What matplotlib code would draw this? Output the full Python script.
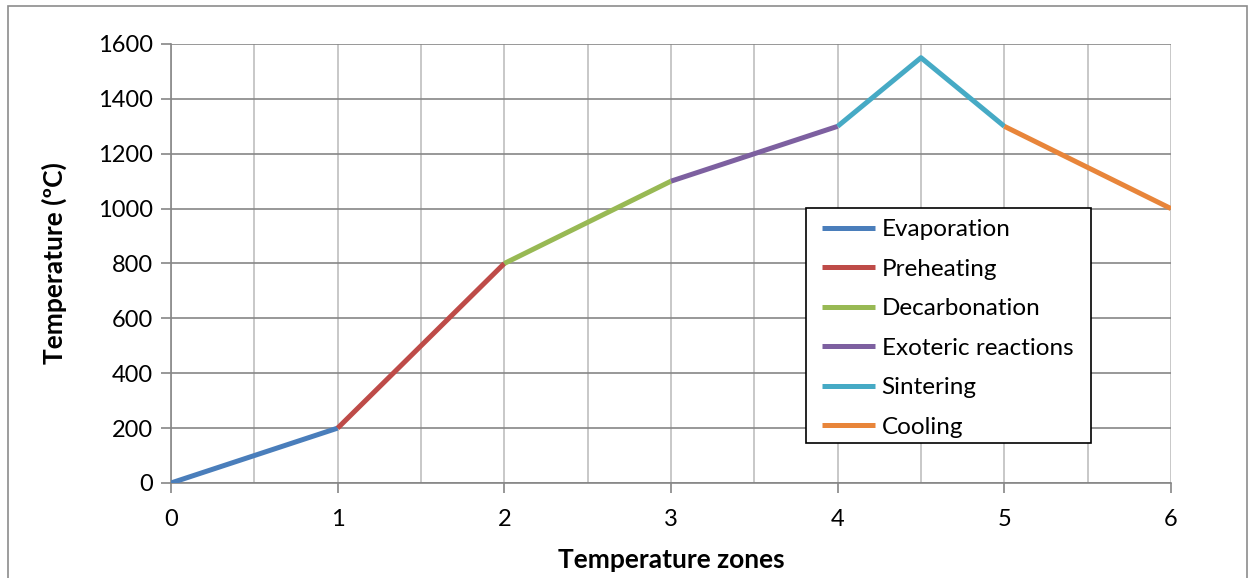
import matplotlib
matplotlib.use("Agg")
import matplotlib.pyplot as plt
from matplotlib.patches import Rectangle

# temperature profile through the kiln, one segment per process stage
stages = ["Evaporation", "Preheating", "Decarbonation",
          "Exoteric reactions", "Sintering", "Cooling"]
zones = [
    [0, 1],
    [1, 2],
    [2, 3],
    [3, 4],
    [4, 4.5, 5],
    [5, 6],
]
temps = [
    [0, 200],
    [200, 800],
    [800, 1100],
    [1100, 1300],
    [1300, 1550, 1300],
    [1300, 1000],
]
colors = ["#4A7EBB", "#BE4B48", "#98B954", "#7D60A0", "#46AAC5", "#E8853A"]

plt.rcParams["font.family"] = ["Lato", "DejaVu Sans"]

fig = plt.figure(figsize=(12.5, 5.78), dpi=100)
ax = fig.add_axes([0.1368, 0.1644, 0.8, 0.7595])

# thin grey frame round the whole chart
fig.patches.append(Rectangle((0.0065, -0.05), 0.991, 1.04, transform=fig.transFigure,
                             fill=False, edgecolor="#8c8c8c", linewidth=1.2))

for x, y, c, name in zip(zones, temps, colors, stages):
    ax.plot(x, y, color=c, linewidth=3.6, label=name, solid_capstyle="butt", zorder=3)

ax.set_xlim(0, 6)
ax.set_ylim(0, 1600)
ax.set_xticks(range(0, 7))
ax.set_xticks([i + 0.5 for i in range(6)], minor=True)
ax.set_yticks(range(0, 1601, 200))

ax.grid(axis="y", which="major", color="#868686", linewidth=1.2)
ax.grid(axis="x", which="both", color="#bfbfbf", linewidth=1.2)
ax.set_axisbelow(True)

for s in ["top", "right"]:
    ax.spines[s].set_visible(False)
ax.spines["left"].set_color("#868686")
ax.spines["bottom"].set_color("#868686")
ax.spines["left"].set_linewidth(1.2)
ax.spines["bottom"].set_linewidth(1.2)

ax.tick_params(axis="both", which="major", labelsize=17, color="#868686",
               length=7, width=1.2, direction="out")
ax.tick_params(axis="x", which="major", pad=12)
ax.tick_params(axis="y", which="major", pad=6)
ax.tick_params(axis="x", which="minor", length=0)

ax.set_xlabel("Temperature zones", fontsize=19, fontweight="bold", labelpad=13)
ax.set_ylabel("Temperature (ºC)", fontsize=19, fontweight="bold", labelpad=22)

# legend box drawn separately so the padding can differ left/right vs top/bottom
ax.add_patch(Rectangle((0.635, 0.091), 0.285, 0.535, transform=ax.transAxes,
                       facecolor="white", edgecolor="black", linewidth=1.2, zorder=4))
leg = ax.legend(loc="upper left", bbox_to_anchor=(0.651, 0.601), fontsize=17.5,
                frameon=False, handlelength=2.2, handletextpad=0.25,
                labelspacing=0.76, borderpad=0, borderaxespad=0)
leg.set_zorder(5)

fig.savefig("out.png", dpi=100)
